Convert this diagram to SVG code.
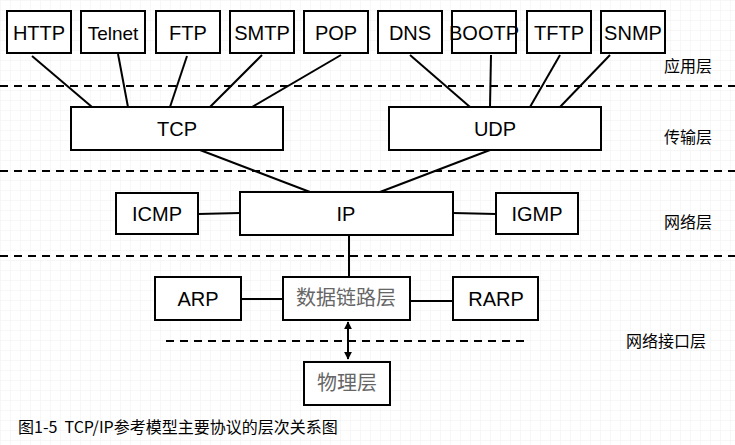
<svg xmlns="http://www.w3.org/2000/svg" width="735" height="445" viewBox="0 0 735 445">
<defs>
<style>
.b{fill:#fff;stroke:#000;stroke-width:2}
.t{font-family:"Liberation Sans",Arial,sans-serif;font-size:20px;fill:#000;text-anchor:middle}
.c{font-family:"Noto Sans CJK SC",sans-serif;font-size:20px;fill:#666;text-anchor:middle}
.l{font-family:"Noto Sans CJK SC",sans-serif;font-size:16px;fill:#000;text-anchor:middle}
.d{stroke:#000;stroke-width:2;stroke-dasharray:8,6;fill:none}
.e{stroke:#000;stroke-width:2;fill:none}
</style>
<pattern id="g" width="10" height="10" patternUnits="userSpaceOnUse"><path d="M10 0H0V10" fill="none" stroke="#f0f0f0" stroke-width="1"/></pattern>
<marker id="a" viewBox="0 0 10 10" refX="9" refY="5" markerWidth="4" markerHeight="4" orient="auto-start-reverse"><path d="M0 0L10 5L0 10z" fill="#000"/></marker>
</defs>
<rect width="735" height="445" fill="#fff"/>
<rect width="735" height="445" fill="url(#g)"/>
<g id="dividers">
<line class="d" x1="0" y1="86" x2="735" y2="86"/>
<line class="d" x1="0" y1="171" x2="735" y2="171"/>
<line class="d" x1="0" y1="256" x2="735" y2="256"/>
<line class="d" x1="166" y1="341" x2="528" y2="341"/>
</g>
<g id="connectors">
<line class="e" x1="32" y1="56" x2="92" y2="107"/>
<line class="e" x1="118" y1="54" x2="128" y2="107"/>
<line class="e" x1="187" y1="56" x2="170" y2="107"/>
<line class="e" x1="262" y1="55" x2="210" y2="107"/>
<line class="e" x1="341" y1="55" x2="252" y2="107"/>
<line class="e" x1="410" y1="55" x2="470" y2="107"/>
<line class="e" x1="491" y1="55" x2="490" y2="107"/>
<line class="e" x1="560" y1="55" x2="530" y2="107"/>
<line class="e" x1="610" y1="55" x2="560" y2="107"/>
<line class="e" x1="200" y1="150" x2="310" y2="192"/>
<line class="e" x1="490" y1="150" x2="380" y2="192"/>
<line class="e" x1="198" y1="214" x2="240" y2="213"/>
<line class="e" x1="453" y1="213" x2="496" y2="214"/>
<line class="e" x1="349" y1="235" x2="349" y2="276"/>
<line class="e" x1="241" y1="299" x2="283" y2="299"/>
<line class="e" x1="410" y1="301" x2="453" y2="301"/>
<line class="e" x1="348" y1="322" x2="348" y2="359" marker-start="url(#a)" marker-end="url(#a)"/>
</g>
<g id="HTTP"><rect class="b" x="7" y="11" width="64" height="42"/><text class="t" x="39" y="40">HTTP</text></g>
<g id="Telnet"><rect class="b" x="81" y="11" width="64" height="42"/><text class="t" x="113" y="40" style="font-size:19px">Telnet</text></g>
<g id="FTP"><rect class="b" x="156" y="11" width="64" height="42"/><text class="t" x="188" y="40">FTP</text></g>
<g id="SMTP"><rect class="b" x="230" y="11" width="64" height="42"/><text class="t" x="262" y="40">SMTP</text></g>
<g id="POP"><rect class="b" x="304" y="11" width="64" height="42"/><text class="t" x="336" y="40">POP</text></g>
<g id="DNS"><rect class="b" x="378" y="11" width="64" height="42"/><text class="t" x="410" y="40">DNS</text></g>
<g id="BOOTP"><rect class="b" x="452" y="11" width="64" height="42"/><text class="t" x="484" y="40">BOOTP</text></g>
<g id="TFTP"><rect class="b" x="527" y="11" width="64" height="42"/><text class="t" x="559" y="40">TFTP</text></g>
<g id="SNMP"><rect class="b" x="601" y="11" width="64" height="42"/><text class="t" x="633" y="40">SNMP</text></g>
<g id="TCP"><rect class="b" x="71" y="107" width="212" height="43"/><text class="t" x="177" y="136">TCP</text></g>
<g id="UDP"><rect class="b" x="389" y="107" width="212" height="43"/><text class="t" x="495" y="136">UDP</text></g>
<g id="ICMP"><rect class="b" x="116" y="193" width="82" height="41"/><text class="t" x="157" y="221">ICMP</text></g>
<g id="IP"><rect class="b" x="240" y="192" width="213" height="43"/><text class="t" x="346" y="221">IP</text></g>
<g id="IGMP"><rect class="b" x="496" y="193" width="82" height="41"/><text class="t" x="537" y="221">IGMP</text></g>
<g id="ARP"><rect class="b" x="155" y="277" width="86" height="43"/><text class="t" x="198" y="306">ARP</text></g>
<g id="datalink"><rect class="b" x="283" y="277" width="127" height="43"/><text class="c" x="346" y="305">数据链路层</text></g>
<g id="RARP"><rect class="b" x="453" y="277" width="85" height="43"/><text class="t" x="496" y="306">RARP</text></g>
<g id="physical"><rect class="b" x="304" y="362" width="86" height="43"/><text class="c" x="347" y="390">物理层</text></g>
<g id="labels">
<text class="l" x="688" y="72">应用层</text>
<text class="l" x="688" y="143">传输层</text>
<text class="l" x="688" y="228">网络层</text>
<text class="l" x="666" y="347">网络接口层</text>
<text x="18" y="433" xml:space="preserve" style="font-family:'Noto Sans CJK SC',sans-serif;font-size:16px">图1-5  TCP/IP参考模型主要协议的层次关系图</text>
</g>
</svg>
